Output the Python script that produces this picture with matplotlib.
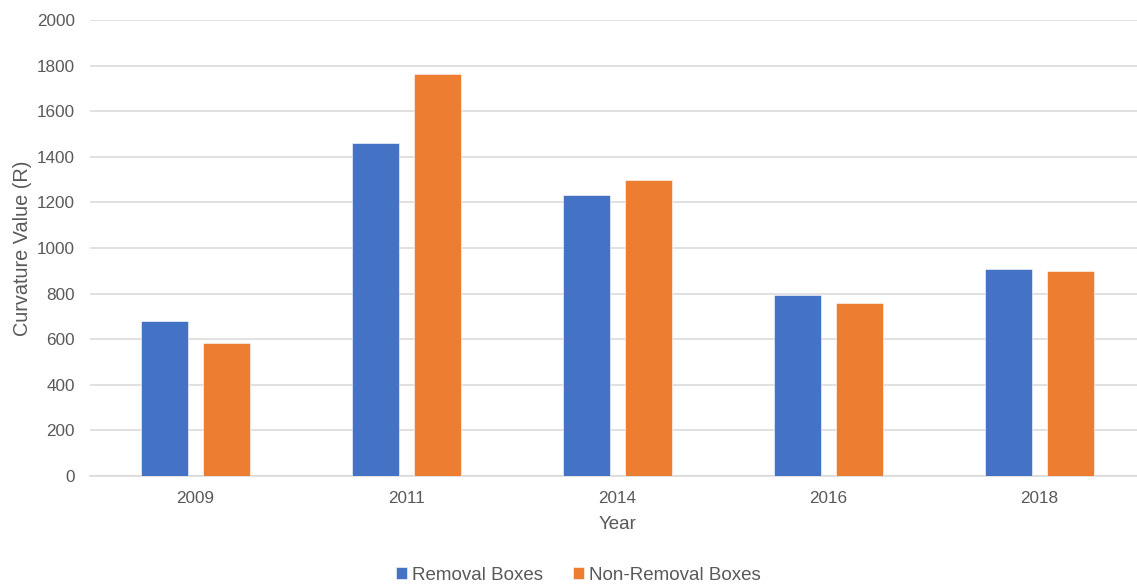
import numpy as np
import matplotlib.pyplot as plt

plt.rcParams['font.family'] = ['Liberation Sans', 'DejaVu Sans']

# --- Data ---
years = ['2009', '2011', '2014', '2016', '2018']
removal = [681, 1459, 1231, 793, 907]
non_removal = [585, 1765, 1297, 760, 899]

blue = '#4472C4'
orange = '#ED7D31'
text_color = '#595959'
grid_color = '#d9d9d9'

fig = plt.figure(figsize=(11.37, 5.86), dpi=100)
ax = fig.add_axes([90 / 1137, 110 / 586, 1055 / 1137, 456 / 586])

x = np.arange(len(years))
w = 0.223
off = 0.145
ax.bar(x - off, removal, w, color=blue, edgecolor='white', linewidth=0.4,
       label='Removal Boxes', zorder=3)
ax.bar(x + off, non_removal, w, color=orange, edgecolor='white', linewidth=0.4,
       label='Non-Removal Boxes', zorder=3)

ax.set_xlim(-0.5, len(years) - 0.5)
ax.set_ylim(0, 2000)
ax.set_yticks(np.arange(0, 2001, 200))
ax.set_xticks(x)
ax.set_xticklabels(years)

ax.yaxis.grid(True, color=grid_color, linewidth=1.1, zorder=0)
for s in ['top', 'right', 'left']:
    ax.spines[s].set_visible(False)
ax.spines['bottom'].set_color(grid_color)
ax.spines['bottom'].set_linewidth(1.1)

ax.tick_params(axis='both', length=0, labelsize=12.3, colors=text_color)
ax.tick_params(axis='y', pad=11)
ax.tick_params(axis='x', pad=11)

ax.set_xlabel('Year', fontsize=13.5, color=text_color, labelpad=7)
ax.set_ylabel('Curvature Value (R)', fontsize=14.3, color=text_color, labelpad=3)

leg = fig.legend(loc='lower center', bbox_to_anchor=(0.509, -0.025), ncol=2,
                 frameon=False, fontsize=13.5, handlelength=0.55, handleheight=0.55,
                 handletextpad=0.3, columnspacing=1.6)
for t in leg.get_texts():
    t.set_color(text_color)

plt.savefig('out.png', dpi=100)
